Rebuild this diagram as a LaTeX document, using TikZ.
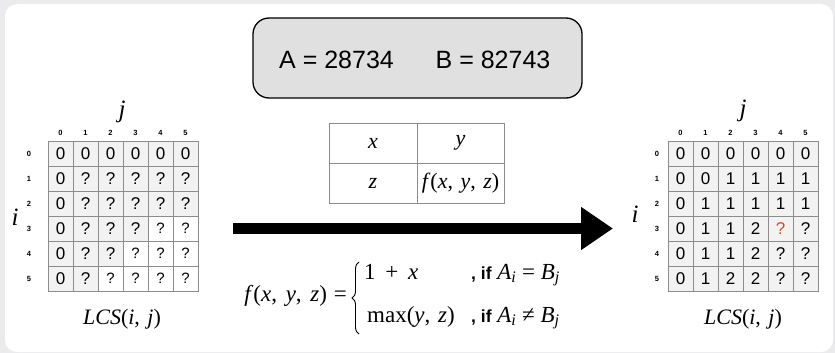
\documentclass[tikz,border=0pt]{standalone}
\usepackage{fontspec}
\setmainfont{Liberation Serif}
\newfontfamily\arial{Liberation Sans}
\usetikzlibrary{arrows.meta,decorations.pathreplacing}
\definecolor{bggray}{HTML}{EBEBED}
\definecolor{cellgray}{HTML}{F2F2F2}
\definecolor{linegray}{HTML}{8C8C8C}
\definecolor{boxgray}{HTML}{E0E0E0}
\definecolor{qred}{HTML}{D9482B}
\tikzset{
  cell/.style={draw=linegray, line width=0.7pt, fill=cellgray, minimum width=25pt, minimum height=25pt, inner sep=0pt, font=\arial\fontsize{17}{17}\selectfont},
  wcell/.style={cell, fill=white, font=\arial\fontsize{15}{15}\selectfont},
  idx/.style={inner sep=0pt, font=\arial\bfseries\fontsize{7.5}{7.5}\selectfont},
  axis/.style={inner sep=0pt, font=\itshape\fontsize{25}{25}\selectfont},
  lcs/.style={inner sep=0pt, font=\fontsize{22}{22}\selectfont},
  tcell/.style={draw=linegray, line width=0.8pt, fill=white, minimum height=40pt, inner sep=0pt, font=\fontsize{22}{22}\selectfont},
  frm/.style={inner sep=0pt, font=\fontsize{23}{23}\selectfont},
}
\newcommand{\ifw}{{\arial\bfseries\fontsize{17.5}{17.5}\selectfont, if}}
\newcommand{\sub}[1]{\textsubscript{\textit{#1}}}
\begin{document}
\begin{tikzpicture}[x=1pt, y=-1pt]
\useasboundingbox (0,0) rectangle (835,353);
\fill[bggray] (0,0) rectangle (835,353);
\fill[white, rounded corners=12pt] (5,4) rectangle (833,352);

% top box
\node[draw, line width=1.3pt, rounded corners=16pt, fill=boxgray, minimum width=329pt, minimum height=80pt] (ab) at (417.5,58) {};
\node[inner sep=0pt, font=\arial\fontsize{25}{25}\selectfont] (ta) at (336.5,60) {A = 28734};
\node[inner sep=0pt, font=\arial\fontsize{25}{25}\selectfont] (tb) at (493,60) {B = 82743};

% middle table
\node[tcell, minimum width=88pt] (tx) at (373,143) {\textit{x}};
\node[tcell, minimum width=87pt] (ty) at (460.5,143) {\textit{y}};
\node[tcell, minimum width=88pt] (tz) at (373,183) {\textit{z}};
\node[tcell, minimum width=87pt] (tf) at (460.5,183) {\textit{f}(\textit{x},\hspace{2pt} \textit{y},\hspace{2pt} \textit{z})};

% left grid
\foreach \c in {0,...,5} {
  \node[idx] (Lc\c) at ({60.5+25*\c},133) {\c};
  \node[idx] (Lr\c) at (29,{153.5+25*\c}) {\c};
}
\foreach \r/\row in {0/{0,0,0,0,0,0},1/{0,?,?,?,?,?},2/{0,?,?,?,?,?},3/{0,?,?,?,?,?},4/{0,?,?,?,?,?},5/{0,?,?,?,?,?}} {
  \foreach \v [count=\c from 0] in \row {
    \pgfmathtruncatemacro{\s}{(\r>=3)&&(\r+\c>=7)}
    \ifnum\s=1
      \node[wcell] (L-\r-\c) at ({60.5+25*\c},{153.5+25*\r}) {\v};
    \else
      \node[cell] (L-\r-\c) at ({60.5+25*\c},{153.5+25*\r}) {\v};
    \fi
  }
}
\node[axis] (Li) at (15,217) {i};
\node[axis] (Lj) at (122,112) {j};
\node[lcs] (Llcs) at (122,319) {\textit{LCS}(\textit{i},\hspace{2pt} \textit{j})};

% right grid
\foreach \c in {0,...,5} {
  \node[idx] (Rc\c) at ({680.5+25*\c},133) {\c};
  \node[idx] (Rr\c) at (657,{153.5+25*\c}) {\c};
}
\foreach \r/\row in {0/{0,0,0,0,0,0},1/{0,0,1,1,1,1},2/{0,1,1,1,1,1},3/{0,1,1,2,!,?},4/{0,1,1,2,?,?},5/{0,1,2,2,?,?}} {
  \foreach \v [count=\c from 0] in \row {
    \if\v!
      \node[cell, text=qred] (R-\r-\c) at ({680.5+25*\c},{153.5+25*\r}) {?};
    \else
      \node[cell] (R-\r-\c) at ({680.5+25*\c},{153.5+25*\r}) {\v};
    \fi
  }
}
\node[axis] (Ri) at (635,214) {i};
\node[axis] (Rj) at (743,111) {j};
\node[lcs] (Rlcs) at (743,319) {\textit{LCS}(\textit{i},\hspace{2pt} \textit{j})};

% arrow
\coordinate (arrS) at (233,228.5);
\coordinate (arrE) at (613,228.5);
\draw[line width=11.5pt, -{Triangle[length=32pt,width=41pt]}] (arrS) -- (arrE);

% formula
\node[frm, anchor=east] (fl) at (347,296) {\textit{f}(\textit{x},\hspace{3pt} \textit{y},\hspace{3pt} \textit{z})\hspace{1pt} =};
\coordinate (brB) at (359,334);
\coordinate (brT) at (359,262);
\draw[line width=0.9pt, decorate, decoration={brace, amplitude=7pt}] (brB) -- (brT);
\node[frm, anchor=west] (c1) at (364,272) {1\hspace{4pt} +\hspace{4pt} \textit{x}};
\node[frm, anchor=west] (c2) at (367,317) {max(\textit{y},\hspace{2pt} \textit{z})};
\node[frm, anchor=west] (k1) at (471,275) {\ifw\ \textit{A}\sub{i} = \textit{B}\sub{j}};
\node[frm, anchor=west] (k2) at (471,318) {\ifw\ \textit{A}\sub{i} ≠ \textit{B}\sub{j}};
\end{tikzpicture}
\end{document}
